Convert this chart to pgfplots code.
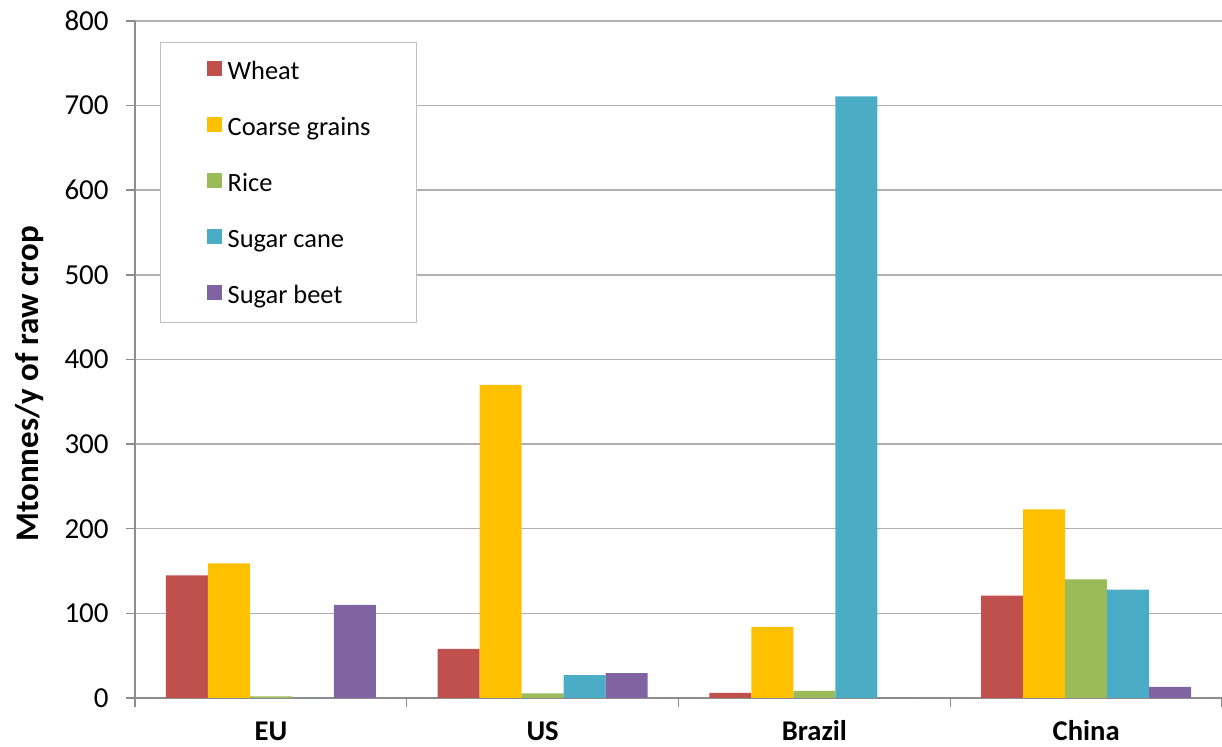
\documentclass[border=0pt]{standalone}
\usepackage{fontspec}
\setmainfont{Carlito}
\usepackage{pgfplots}
\pgfplotsset{compat=1.18}
\usetikzlibrary{calc}

\definecolor{wheat}{HTML}{C0504D}
\definecolor{coarse}{HTML}{FFC000}
\definecolor{rice}{HTML}{9BBB59}
\definecolor{cane}{HTML}{4BACC6}
\definecolor{beet}{HTML}{8064A2}
\definecolor{gridc}{HTML}{B0B0B0}
\definecolor{axisc}{HTML}{8C8C8C}
\definecolor{legc}{HTML}{BFBFBF}

\pgfplotsset{
  sq/.style={legend image code/.code={\fill[##1,draw=none] (0pt,-2.5pt) rectangle (7.5pt,5pt);}},
}

\begin{document}
\begin{tikzpicture}
\begin{axis}[
    scale only axis,
    width=543.5pt,
    height=338.5pt,
    ybar=0pt,
    bar width=21pt,
    xmin=-0.5, xmax=3.5,
    ymin=0, ymax=800,
    ytick={0,100,...,800},
    axis x line*=bottom,
    axis y line*=left,
    axis line style={axisc, line width=0.75pt},
    ymajorgrids,
    grid style={gridc, line width=0.75pt},
    tick align=outside,
    major tick length=4.5pt,
    tick style={axisc, line width=0.75pt},
    xtick={-0.5,0.5,1.5,2.5,3.5},
    xticklabels={},
    extra x ticks={0,1,2,3},
    extra x tick labels={EU,US,Brazil,China},
    extra x tick style={tick style={draw=none}},
    xticklabel style={font=\fontsize{14.3}{16}\selectfont\bfseries, anchor=base, inner sep=0pt, yshift=-17pt},
    yticklabel style={font=\fontsize{14.5}{16}\selectfont, anchor=east, inner sep=0pt, xshift=-8.5pt},
    /pgf/number format/assume math mode=true,
    ylabel={Mtonnes/y of raw crop},
    ylabel style={font=\fontsize{16.5}{18}\selectfont\bfseries, at={(axis description cs:-0.0892,0.4638)}, anchor=base},
    legend cell align=left,
    legend style={at={(axis description cs:0.023,0.969)}, anchor=north west,
      draw=legc, line width=0.75pt, inner xsep=23pt, inner ysep=7.5pt,
      row sep=15pt, font=\fontsize{13.2}{15}\selectfont,
      nodes={inner xsep=0pt, inner ysep=0pt, text height=11pt, text depth=2pt},
      /tikz/every odd column/.append style={column sep=3pt}},
]
\addplot[fill=wheat, draw=none, sq] coordinates {(0,145) (1,58) (2,6) (3,121)};
\addplot[fill=coarse, draw=none, sq] coordinates {(0,159) (1,370) (2,84) (3,223)};
\addplot[fill=rice, draw=none, sq] coordinates {(0,2) (1,5.5) (2,8.5) (3,140)};
\addplot[fill=cane, draw=none, sq] coordinates {(0,0) (1,27) (2,711) (3,128)};
\addplot[fill=beet, draw=none, sq] coordinates {(0,110) (1,29.5) (2,0) (3,13)};
\legend{Wheat, Coarse grains, Rice, Sugar cane, Sugar beet}
\end{axis}
\pgfresetboundingbox
\useasboundingbox ($(current axis.south west)+(-67.5pt,-24.5pt)$) rectangle ($(current axis.north east)+(0pt,10.5pt)$);
\end{tikzpicture}
\end{document}
